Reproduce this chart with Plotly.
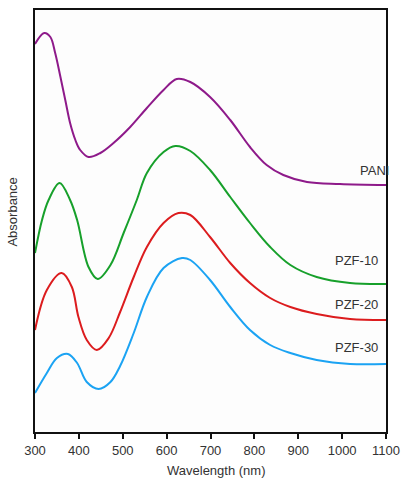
import plotly.graph_objects as go

# Wavelength (nm) / Absorbance (a.u.)
pani_wl = [300, 321, 335, 346, 358, 369, 380, 392, 403, 422, 449, 479, 517, 555, 593, 623, 654, 699, 745, 790, 828, 866, 920, 995, 1100]
pani_ab = [3.88, 3.99, 3.95, 3.79, 3.55, 3.32, 3.09, 2.92, 2.82, 2.75, 2.79, 2.89, 3.05, 3.24, 3.42, 3.53, 3.50, 3.35, 3.12, 2.85, 2.67, 2.57, 2.50, 2.48, 2.47]

pzf10_wl = [300, 316, 331, 356, 380, 396, 422, 443, 472, 502, 532, 555, 593, 620, 654, 699, 745, 790, 836, 882, 942, 1018, 1100]
pzf10_ab = [1.79, 2.12, 2.32, 2.49, 2.32, 2.12, 1.65, 1.53, 1.67, 1.99, 2.32, 2.59, 2.80, 2.86, 2.81, 2.62, 2.35, 2.09, 1.85, 1.67, 1.55, 1.49, 1.48]

pzf20_wl = [300, 327, 361, 384, 399, 418, 441, 468, 494, 525, 555, 593, 627, 654, 699, 745, 790, 836, 882, 942, 1018, 1100]
pzf20_ab = [1.02, 1.42, 1.59, 1.45, 1.15, 0.92, 0.82, 0.94, 1.20, 1.55, 1.85, 2.09, 2.19, 2.17, 1.95, 1.69, 1.49, 1.34, 1.25, 1.18, 1.13, 1.12]

pzf30_wl = [300, 327, 350, 375, 396, 418, 445, 472, 494, 525, 555, 593, 635, 654, 699, 745, 790, 836, 882, 942, 1018, 1100]
pzf30_ab = [0.39, 0.59, 0.74, 0.78, 0.69, 0.50, 0.43, 0.50, 0.66, 0.99, 1.35, 1.64, 1.74, 1.72, 1.52, 1.25, 1.02, 0.87, 0.79, 0.72, 0.68, 0.68]

series_names = ["PANI", "PZF-10", "PZF-20", "PZF-30"]
series_colors = ["#8e1a8a", "#17a02b", "#dc1c1e", "#1ba3f3"]
label_wl = [1037, 980, 980, 980]
label_ab = [2.62, 1.72, 1.28, 0.85]

x_ticks = [300, 400, 500, 600, 700, 800, 900, 1000, 1100]

FONT = "Liberation Sans, Arial"

fig = go.Figure()
data = [(pani_wl, pani_ab), (pzf10_wl, pzf10_ab), (pzf20_wl, pzf20_ab), (pzf30_wl, pzf30_ab)]
for (wl, ab), name, color in zip(data, series_names, series_colors):
    fig.add_trace(go.Scatter(x=wl, y=ab, mode="lines", name=name, hoverinfo="skip",
                             line=dict(color=color, width=2, shape="spline", smoothing=1.0,
                                       simplify=False)))

for name, xw, ya in zip(series_names, label_wl, label_ab):
    fig.add_annotation(x=xw, y=ya, text=name, showarrow=False, xanchor="left", yanchor="middle",
                       font=dict(family=FONT, size=13, color="#333333"))

# axis titles placed as annotations relative to the plot area
fig.add_annotation(x=0.517, y=0, xref="paper", yref="paper", yshift=-38,
                   text="Wavelength (nm)", showarrow=False, xanchor="center", yanchor="middle",
                   font=dict(family=FONT, size=13, color="#333333"))
fig.add_annotation(x=0, y=0.52, xref="paper", yref="paper", xshift=-22, textangle=-90,
                   text="Absorbance", showarrow=False, xanchor="center", yanchor="middle",
                   font=dict(family=FONT, size=13, color="#333333"))

fig.update_layout(
    width=401, height=479,
    margin=dict(l=35, r=15, t=10, b=47),
    paper_bgcolor="white", plot_bgcolor="#fdfdfd",
    showlegend=False,
    font=dict(family=FONT, size=13, color="#333333"),
)
fig.update_xaxes(range=[300, 1100], tickvals=x_ticks, ticks="outside", ticklen=5, tickwidth=2,
                 tickcolor="#111111", showline=True, linecolor="#111111", linewidth=2, mirror=True,
                 showgrid=False, zeroline=False, automargin=False,
                 tickfont=dict(family=FONT, size=13, color="#333333"))
fig.update_yaxes(range=[0, 4.22], showticklabels=False, ticks="", showline=True, linecolor="#111111",
                 linewidth=2, mirror=True, showgrid=False, zeroline=False, automargin=False)

fig.write_html("out.html", config={"displayModeBar": False},
               post_script="document.body.style.margin='0px';")
